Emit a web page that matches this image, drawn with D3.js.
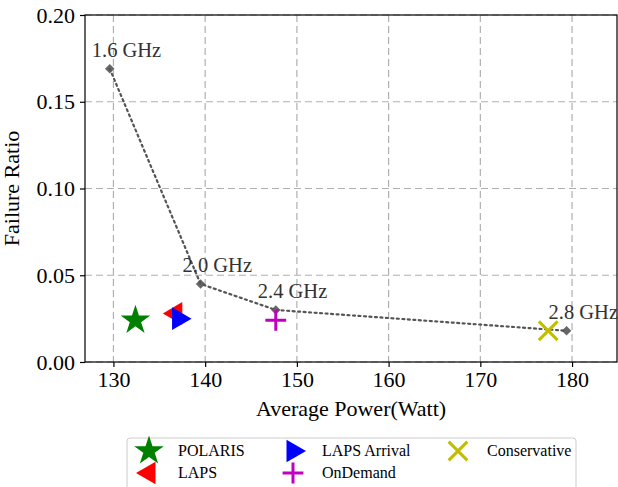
<!DOCTYPE html>
<html>
<head>
<meta charset="utf-8">
<script src="https://cdn.jsdelivr.net/npm/d3@7"></script>
<style>
  body { margin: 0; background: #fff; }
  svg text { font-family: "Liberation Serif", "DejaVu Serif", serif; }
</style>
</head>
<body>
<svg id="chart" width="618" height="487"></svg>
<script>
// frequency sweep (dotted curve)
const freqLabels = ["1.6 GHz", "2.0 GHz", "2.4 GHz", "2.8 GHz"];
const freqPower = [129.6, 139.5, 147.7, 179.4];
const freqFailure = [0.169, 0.045, 0.030, 0.018];

// schedulers
const schemes = ["POLARIS", "LAPS", "LAPS Arrival", "OnDemand", "Conservative"];
const schemePower = [132.4, 136.8, 137.1, 147.7, 177.4];
const schemeFailure = [0.024, 0.028, 0.025, 0.024, 0.018];

const xTicks = [130, 140, 150, 160, 170, 180];
const yTicks = [0.00, 0.05, 0.10, 0.15, 0.20];

const margin = { top: 15, right: 1, bottom: 125, left: 85 };
const width = 618 - margin.left - margin.right;
const height = 487 - margin.top - margin.bottom;

const svg = d3.select("#chart")
  .append("g")
  .attr("transform", `translate(${margin.left},${margin.top})`);

const x = d3.scaleLinear().domain([126.9, 184.9]).range([0, width]);
const y = d3.scaleLinear().domain([0, 0.2]).range([height, 0]);

// grid
svg.append("g").selectAll("line")
  .data(xTicks).enter().append("line")
  .attr("x1", d => x(d)).attr("x2", d => x(d))
  .attr("y1", 0).attr("y2", height)
  .attr("stroke", "#b0b0b0").attr("stroke-width", 1.2)
  .attr("stroke-dasharray", "7,4");
svg.append("g").selectAll("line")
  .data(yTicks).enter().append("line")
  .attr("y1", d => y(d)).attr("y2", d => y(d))
  .attr("x1", 0).attr("x2", width)
  .attr("stroke", "#b0b0b0").attr("stroke-width", 1.2)
  .attr("stroke-dasharray", "7,4");

// axes
const xAxis = svg.append("g")
  .attr("transform", `translate(0,${height})`)
  .call(d3.axisBottom(x).tickValues(xTicks).tickSize(5).tickPadding(4).tickFormat(d3.format("d")));
const yAxis = svg.append("g")
  .call(d3.axisLeft(y).tickValues(yTicks).tickSize(5).tickPadding(5).tickFormat(d3.format(".2f")));
[xAxis, yAxis].forEach(a => {
  a.selectAll("text").style("font-size", "22px").attr("fill", "#000")
    .style("font-family", '"Liberation Serif", serif');
  a.selectAll("line").attr("stroke", "#000").attr("stroke-width", 1.2);
  a.select(".domain").remove();
});

// frame
svg.append("rect")
  .attr("width", width).attr("height", height)
  .attr("fill", "none").attr("stroke", "#000").attr("stroke-width", 1.2);

// frequency curve
const pts = freqPower.map((p, i) => [p, freqFailure[i]]);
svg.append("path")
  .datum(pts)
  .attr("d", d3.line().x(d => x(d[0])).y(d => y(d[1])))
  .attr("fill", "none")
  .attr("stroke", "#555").attr("stroke-width", 2.2)
  .attr("stroke-dasharray", "2,3.5")
  .attr("stroke-linecap", "round");

const diamond = d3.symbol().type(d3.symbolSquare).size(45);
svg.selectAll(".freq")
  .data(pts).enter().append("path")
  .attr("class", "freq")
  .attr("d", diamond)
  .attr("transform", d => `translate(${x(d[0])},${y(d[1])}) rotate(45)`)
  .attr("fill", "#555").attr("opacity", 0.9);

svg.selectAll(".flabel")
  .data(freqLabels).enter().append("text")
  .attr("class", "flabel")
  .attr("x", (d, i) => x(freqPower[i]) - 18)
  .attr("y", (d, i) => y(freqFailure[i]) - 12)
  .attr("fill", "#333")
  .style("font-size", "20.5px")
  .text(d => d);

// scheme markers
const colors = ["#008000", "#ff0000", "#0000ff", "#bf00bf", "#bfbf00"];
function marker(g, i, cx, cy, s) {
  const c = colors[i];
  if (i === 0) {
    g.append("path").attr("d", d3.symbol().type(d3.symbolStar).size(s * 21)())
      .attr("transform", `translate(${cx},${cy})`).attr("fill", c);
  } else if (i === 1 || i === 2) {
    const r = s;
    const dir = i === 1 ? -1 : 1;
    const pts = [[dir * r, 0], [-dir * r * 0.5, -r * 0.87], [-dir * r * 0.5, r * 0.87]];
    g.append("path").attr("d", "M" + pts.map(p => p.join(",")).join("L") + "Z")
      .attr("transform", `translate(${cx},${cy})`).attr("fill", c);
  } else if (i === 3) {
    const r = s * 0.8;
    g.append("path").attr("d", `M${-r},0H${r}M0,${-r}V${r}`)
      .attr("transform", `translate(${cx},${cy})`)
      .attr("stroke", c).attr("stroke-width", 3).attr("fill", "none");
  } else {
    const r = s * 0.72;
    g.append("path").attr("d", `M${-r},${-r}L${r},${r}M${-r},${r}L${r},${-r}`)
      .attr("transform", `translate(${cx},${cy})`)
      .attr("stroke", c).attr("stroke-width", 3).attr("fill", "none");
  }
}
const mg = svg.append("g");
schemes.forEach((s, i) => marker(mg, i, x(schemePower[i]), y(schemeFailure[i]), 13));

// axis titles
svg.append("text")
  .attr("x", width / 2).attr("y", height + 54)
  .attr("text-anchor", "middle").style("font-size", "22px")
  .text("Average Power(Watt)");
svg.append("text")
  .attr("transform", `translate(${-66},${height / 2}) rotate(-90)`)
  .attr("text-anchor", "middle").style("font-size", "22px")
  .text("Failure Ratio");

// legend
const lg = d3.select("#chart").append("g");
lg.append("rect")
  .attr("x", 127).attr("y", 438).attr("width", 449).attr("height", 52)
  .attr("rx", 3)
  .attr("fill", "#fff").attr("stroke", "#ccc").attr("stroke-width", 1);
const legendPos = [[149, 451], [149, 473], [293, 451], [293, 473], [458, 451]];
schemes.forEach((s, i) => {
  const [lx, ly] = legendPos[i];
  marker(lg, i, lx, ly, 13);
  lg.append("text")
    .attr("x", lx + 29).attr("y", ly + 5)
    .style("font-size", "16px")
    .text(s);
});
</script>
</body>
</html>
